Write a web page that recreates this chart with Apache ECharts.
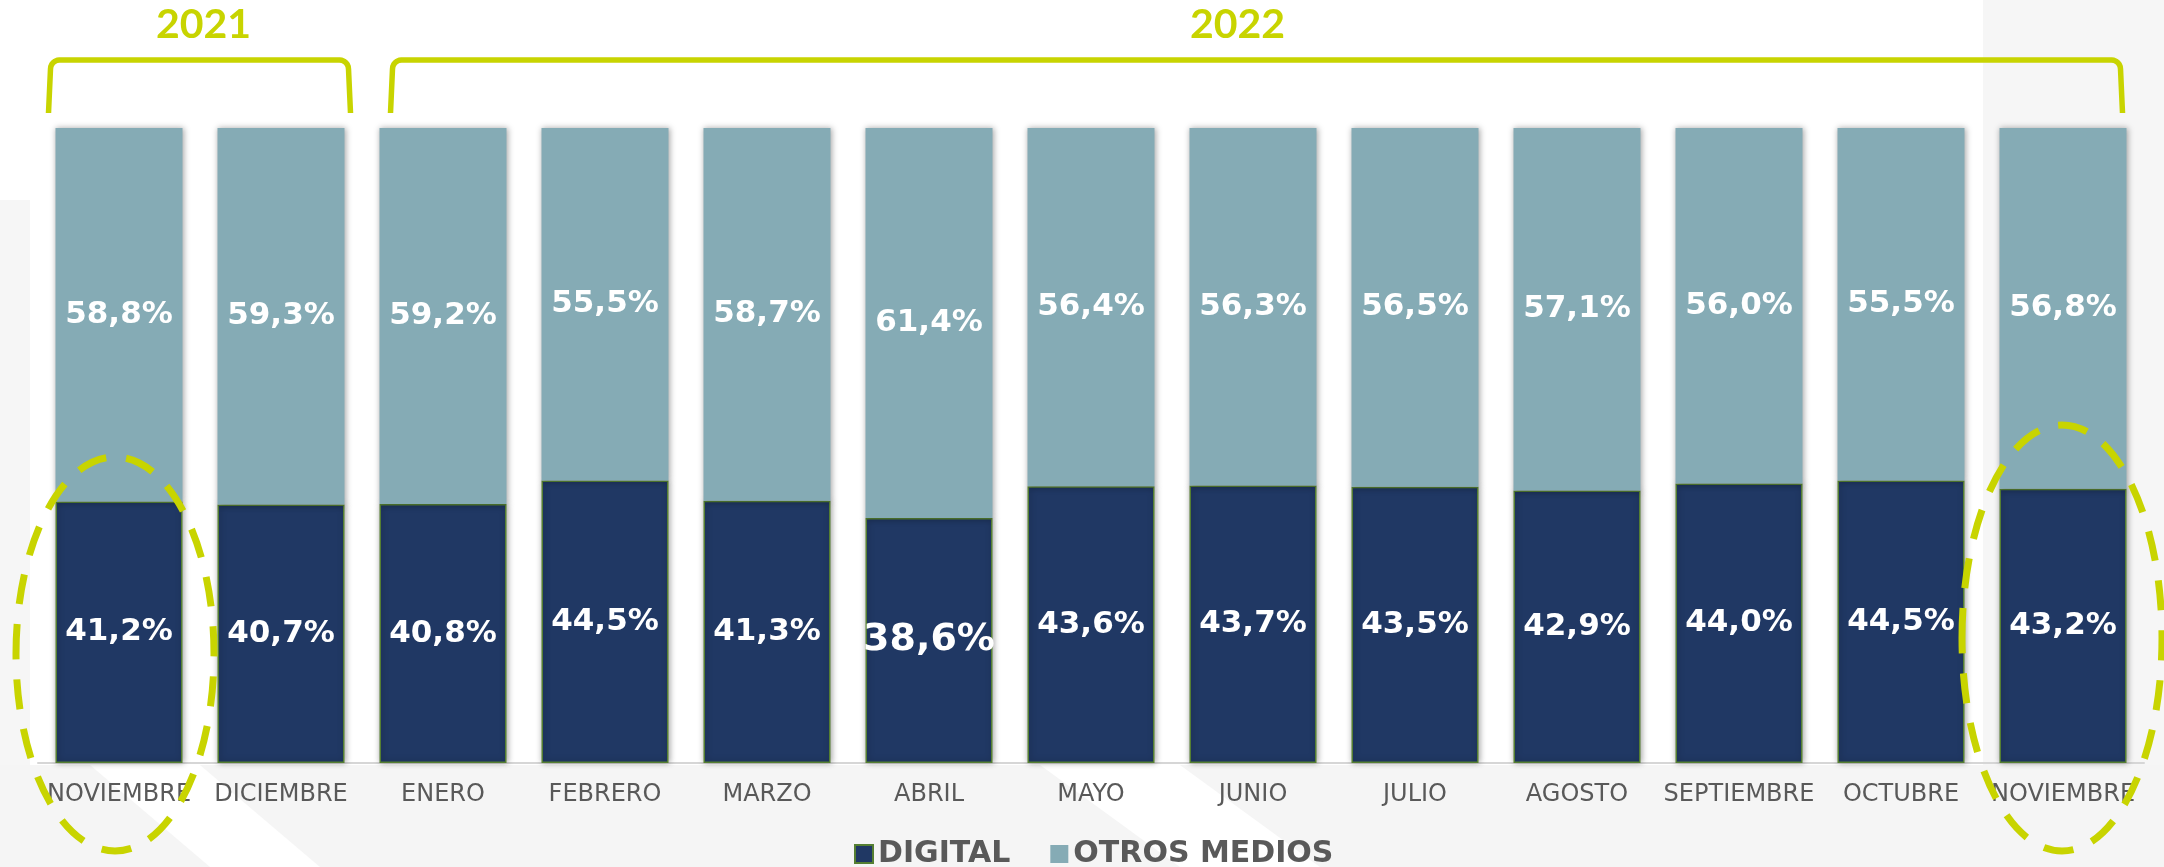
<!DOCTYPE html>
<html>
<head>
<meta charset="utf-8">
<script src="https://cdn.jsdelivr.net/npm/echarts@6/dist/echarts.min.js"></script>
<style>
html,body{margin:0;padding:0;background:#fff;}
#chart{width:2164px;height:867px;}
</style>
</head>
<body>
<div id="chart"></div>
<script>
const months = ['NOVIEMBRE','DICIEMBRE','ENERO','FEBRERO','MARZO','ABRIL','MAYO','JUNIO','JULIO','AGOSTO','SEPTIEMBRE','OCTUBRE','NOVIEMBRE'];
const digital = [41.2, 40.7, 40.8, 44.5, 41.3, 38.6, 43.6, 43.7, 43.5, 42.9, 44.0, 44.5, 43.2];
const otros   = [58.8, 59.3, 59.2, 55.5, 58.7, 61.4, 56.4, 56.3, 56.5, 57.1, 56.0, 55.5, 56.8];
const years = [
  {label: '2021', first: 0, last: 1},
  {label: '2022', first: 2, last: 12}
];
const highlighted = [0, 12];

const GREEN = '#c8d400';
const fmt = v => v.toFixed(1).replace('.', ',') + '%';

const chart = echarts.init(document.getElementById('chart'), null, {renderer: 'canvas'});

const labelBase = {
  show: true, position: 'inside', color: '#ffffff', fontWeight: 'bold',
  fontFamily: 'DejaVu Sans', fontSize: 31,
  formatter: p => fmt(p.value)
};

const option = {
  backgroundColor: '#ffffff',
  animation: false,
  grid: {left: 38, right: 20, top: 128, bottom: 104, containLabel: false},
  legend: {
    left: 849, top: 834,
    icon: 'rect', itemWidth: 18, itemHeight: 18, itemGap: 40,
    textStyle: {color: '#595959', fontSize: 30, fontWeight: 'bold', fontFamily: 'DejaVu Sans'},
    data: ['DIGITAL', 'OTROS MEDIOS']
  },
  xAxis: {
    type: 'category', data: months,
    axisLine: {lineStyle: {color: '#d6d6d6', width: 2}},
    axisTick: {show: false},
    axisLabel: {interval: 0, color: '#595959', fontSize: 24, fontFamily: 'DejaVu Sans', margin: 20}
  },
  yAxis: {type: 'value', min: 0, max: 100, show: false, splitLine: {show: false}},
  series: [
    {
      name: 'DIGITAL', type: 'bar', stack: 'total', barCategoryGap: '21.6%',
      itemStyle: {color: '#203864', borderColor: '#557f32', borderWidth: 1.5,
        shadowBlur: 6, shadowColor: 'rgba(0,0,0,0.35)', shadowOffsetX: 1},
      label: labelBase,
      data: digital.map((v, i) => i === 5 ? {value: v, label: {fontSize: 38}} : v)
    },
    {
      name: 'OTROS MEDIOS', type: 'bar', stack: 'total', barCategoryGap: '21.6%',
      itemStyle: {color: '#85abb5', shadowBlur: 6, shadowColor: 'rgba(0,0,0,0.35)', shadowOffsetX: 1},
      label: labelBase,
      data: otros
    }
  ]
};
chart.setOption(option);

// annotations (brackets, year labels, dashed ellipses)
const px = i => chart.convertToPixel({xAxisIndex: 0}, i);
const py = v => chart.convertToPixel({yAxisIndex: 0}, v);
const band = px(1) - px(0);
const half = band * (1 - 0.216) / 2;
const topY = py(100);

const graphics = [];
// subtle background watermark
const bg = (pts, fill, z) => graphics.push({type: 'polygon', z: z, silent: true, shape: {points: pts}, style: {fill: fill}});
bg([[0, 200], [30, 200], [30, 867], [0, 867]], '#f6f6f6', -100);
bg([[1983, 0], [2164, 0], [2164, 867], [1983, 867]], '#f6f6f6', -100);
bg([[0, 765], [2164, 765], [2164, 867], [0, 867]], '#f5f5f5', -100);
bg([[1040, 765], [1180, 765], [1320, 867], [1180, 867]], '#ffffff', -99);
bg([[90, 765], [200, 765], [320, 867], [210, 867]], '#ffffff', -99);

const bTop = topY - 68, bBot = topY - 15, r = 9;
const arcPts = (cx, cy, a0, a1) => {
  const pts = [];
  for (let s = 0; s <= 6; s++) {
    const a = a0 + (a1 - a0) * s / 6;
    pts.push([cx + r * Math.cos(a), cy + r * Math.sin(a)]);
  }
  return pts;
};
years.forEach((y, k) => {
  const x1 = px(y.first) - half + (k === 0 ? -7 : 11);
  const x2 = px(y.last) + half + (k === 0 ? 6 : -4);
  const pts = [[x1, bBot]]
    .concat(arcPts(x1 + 2 + r, bTop + r, Math.PI, 1.5 * Math.PI))
    .concat(arcPts(x2 - 2 - r, bTop + r, 1.5 * Math.PI, 2 * Math.PI))
    .concat([[x2, bBot]]);
  graphics.push({
    type: 'polyline', z: 100, silent: true,
    shape: {points: pts},
    style: {fill: null, stroke: GREEN, lineWidth: 5.5, lineJoin: 'round'}
  });
  const cx = k === 0 ? (x1 + x2) / 2 + 4 : (x1 + x2) / 2 - 19;
  graphics.push({
    type: 'text', z: 100, silent: true, x: cx, y: 25,
    style: {text: y.label, fill: GREEN, font: 'bold 41px Lato', align: 'center', verticalAlign: 'middle'}
  });
});

const ellipses = [
  {cy: 654, rx: 99, ry: 197, dx: -4},
  {cy: 638, rx: 100, ry: 213, dx: -1}
];
highlighted.forEach((idx, k) => {
  const e = ellipses[k];
  graphics.push({
    type: 'ellipse', z: 100, silent: true,
    shape: {cx: px(idx) + e.dx, cy: e.cy, rx: e.rx, ry: e.ry},
    style: {fill: null, stroke: GREEN, lineWidth: 7, lineDash: [30, 20]}
  });
});

chart.setOption({graphic: graphics});
</script>
</body>
</html>
